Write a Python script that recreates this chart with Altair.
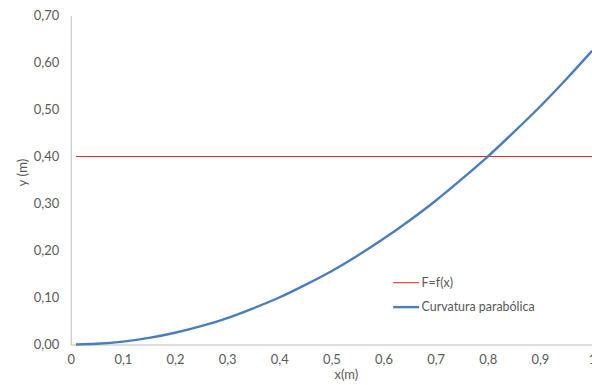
import altair as alt
import pandas as pd

# Parabolic curvature y(x), in metres
x_curve = [0.01, 0.05, 0.10, 0.15, 0.20, 0.25, 0.30, 0.35, 0.40, 0.45, 0.50,
           0.55, 0.60, 0.65, 0.70, 0.75, 0.80, 0.85, 0.90, 0.95, 1.00]
y_curve = [0.0001, 0.0016, 0.006, 0.014, 0.025, 0.039, 0.056, 0.077, 0.100, 0.127, 0.156,
           0.189, 0.225, 0.264, 0.306, 0.352, 0.400, 0.452, 0.506, 0.564, 0.625]

# Constant level F = f(x)
x_level = [0.01, 1.00]
y_level = [0.40, 0.40]

series = ["F=f(x)", "Curvatura parabólica"]
colors = ["#E0302A", "#4A7EBB"]
widths = [1.1, 2.4]

df = pd.concat([
    pd.DataFrame({"x": x_level, "y": y_level, "serie": series[0]}),
    pd.DataFrame({"x": x_curve, "y": y_curve, "serie": series[1]}),
])

FONT = "Lato"
GREY = "#595959"

legend_opts = dict(title=None, orient="none", legendX=322, legendY=254,
                   symbolType="stroke", symbolSize=676,
                   labelFontSize=12.5, labelColor=GREY, labelFont=FONT,
                   rowPadding=3, labelOffset=1)

chart = alt.Chart(df).mark_line(interpolate="monotone").encode(
    x=alt.X("x:Q",
            scale=alt.Scale(domain=[0, 1], nice=False),
            axis=alt.Axis(title="x(m)", values=[0, 0.1, 0.2, 0.3, 0.4, 0.5, 0.6, 0.7, 0.8, 0.9, 1],
                          labelExpr="replace(format(datum.value, '~g'), '.', ',')",
                          grid=False, ticks=False, domainColor="#BFBFBF",
                          labelFlush=False, labelOverlap=False,
                          labelPadding=9, labelFontSize=13, labelColor=GREY,
                          titleFontSize=13, titleFontWeight="normal", titleColor=GREY,
                          titlePadding=2, titleX=276)),
    y=alt.Y("y:Q",
            scale=alt.Scale(domain=[0, 0.7], nice=False),
            axis=alt.Axis(title="y (m)", values=[0, 0.1, 0.2, 0.3, 0.4, 0.5, 0.6, 0.7],
                          labelExpr="replace(format(datum.value, '.2f'), '.', ',')",
                          grid=False, ticks=False, domainColor="#BFBFBF",
                          labelFlush=False,
                          labelPadding=12, labelFontSize=13, labelColor=GREY,
                          titleFontSize=13.5, titleFontWeight="normal", titleColor=GREY,
                          titlePadding=4, titleY=157)),
    color=alt.Color("serie:N", scale=alt.Scale(domain=series, range=colors),
                    legend=alt.Legend(**legend_opts)),
    strokeWidth=alt.StrokeWidth("serie:N", scale=alt.Scale(domain=series, range=widths),
                                legend=alt.Legend(**legend_opts)),
).properties(
    width=523, height=330,
    autosize=alt.AutoSizeParams(type="none"),
    padding={"left": 71, "top": 15, "right": 0, "bottom": 40},
).configure_view(stroke=None).configure_axis(labelFont=FONT, titleFont=FONT)

chart.save("out.html", embed_options={"renderer": "svg", "actions": False})
